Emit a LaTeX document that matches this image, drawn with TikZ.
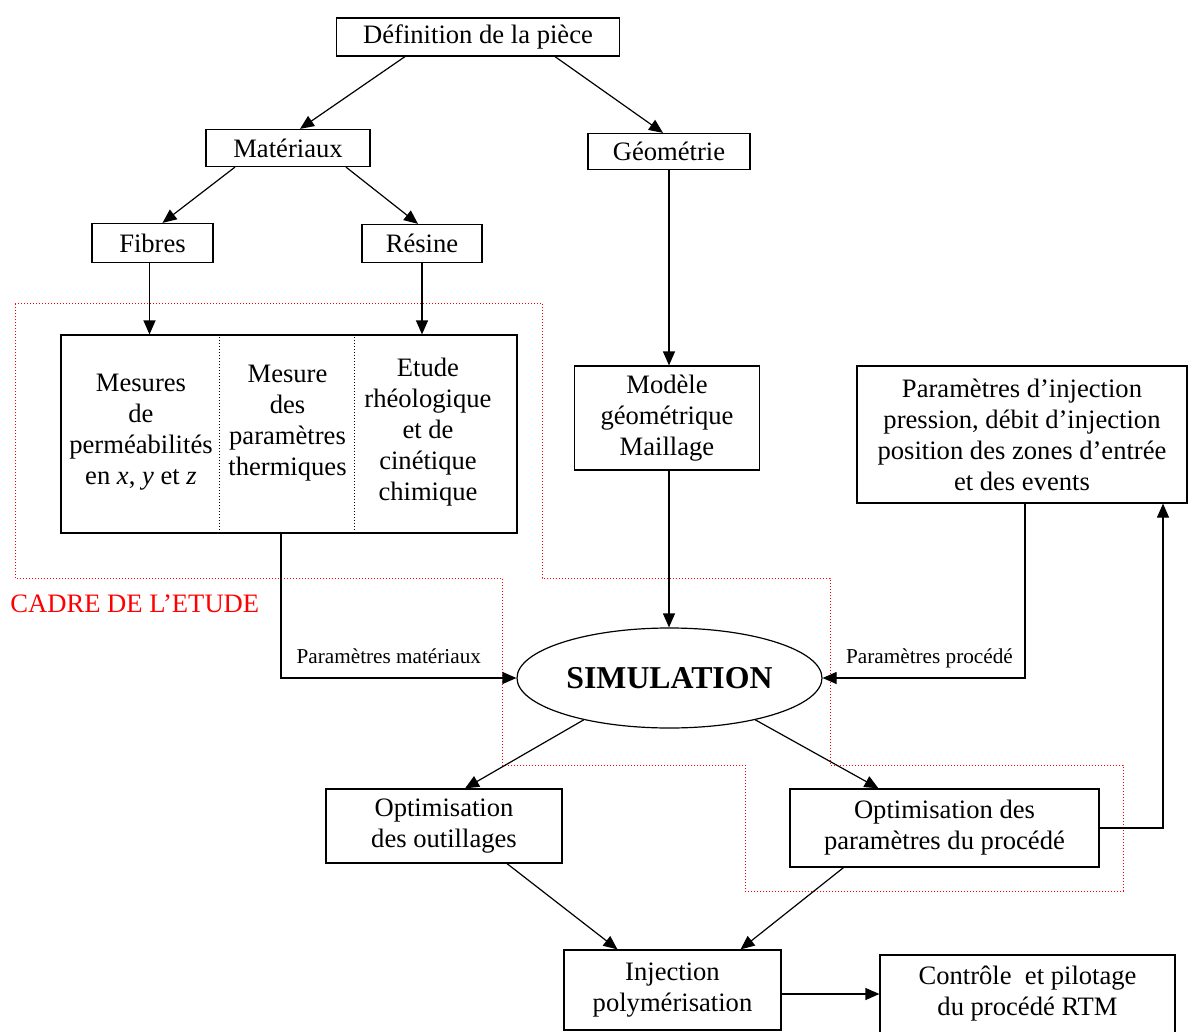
\documentclass[tikz,border=0pt]{standalone}
\usepackage{fontspec}
\setmainfont{Liberation Serif}
\usetikzlibrary{arrows.meta, calc, shapes.geometric, positioning}

\begin{document}
\begin{tikzpicture}[x=0.5pt, y=-0.5pt,
    boite/.style={draw, rectangle, inner sep=0pt, align=center, line width=0.6pt,
        font=\fontsize{13.3}{15.5}\selectfont},
    texte/.style={inner sep=0pt, align=center, font=\fontsize{13.3}{15.5}\selectfont},
    petit/.style={font=\fontsize{10.6}{12}\selectfont, text depth=0.25em},
    fleche/.style={-{Triangle[length=7pt,width=6pt]}, line width=0.6pt},
    cadre/.style={red, densely dotted, line width=0.5pt}]
    \useasboundingbox (0,0) rectangle (1188,1032);

    % cadre de l'etude
    \draw[cadre] (15,303) -- (542,303) -- (542,578) -- (830,578) -- (830,765)
        -- (1123,765) -- (1123,891) -- (745,891) -- (745,765) -- (502,765)
        -- (502,578) -- (15,578) -- cycle;
    \node[texte, red, anchor=west] (titre) at (10,604) {CADRE DE L’ETUDE};

    % boites
    \node[boite, minimum width=141.5pt, minimum height=19pt] (def) at (478,37) {Définition de la pièce};
    \node[boite, minimum width=82pt, minimum height=18.5pt] (mat) at (288,148) {Matériaux};
    \node[boite, minimum width=81pt, minimum height=18pt] (geo) at (669,151.5) {Géométrie};
    \node[boite, minimum width=60.5pt, minimum height=19.5pt] (fibres) at (152.5,243) {Fibres};
    \node[boite, minimum width=60pt, minimum height=19pt] (resine) at (422,243.5) {Résine};
    \node[boite, minimum width=228pt, minimum height=99pt] (etude) at (289,434) {};
    \node[texte] (perm) at (141,432) {Mesures\\de\\perméabilités\\en \textit{x}, \textit{y} et \textit{z}};
    \node[texte] (therm) at (287.5,423) {Mesure\\des\\paramètres\\thermiques};
    \node[texte] (rheo) at (428,432) {Etude\\rhéologique\\et de\\cinétique\\chimique};
    \draw[densely dotted, line width=0.5pt] ($(etude.north west)+(159,0)$) -- ($(etude.south west)+(159,0)$);
    \draw[densely dotted, line width=0.5pt] ($(etude.north west)+(294,0)$) -- ($(etude.south west)+(294,0)$);
    \node[boite, minimum width=92.5pt, minimum height=52pt] (modele) at (667,418) {Modèle\\géométrique\\Maillage};
    \node[boite, minimum width=165pt, minimum height=68.5pt] (injparam) at (1022,434.5)
        {Paramètres d’injection\\pression, débit d’injection\\position des zones d’entrée\\et des events};
    \node[ellipse, draw, line width=0.6pt, inner sep=0pt, minimum width=152.5pt, minimum height=50pt,
        font=\bfseries\fontsize{15.9}{18}\selectfont] (sim) at (669.5,678) {\raisebox{-1.5pt}{SIMULATION}};
    \node[boite, minimum width=118pt, minimum height=37pt] (optout) at (444,826) {Optimisation\\des outillages};
    \node[boite, minimum width=154.5pt, minimum height=39pt] (optparam) at (944.5,828) {Optimisation des\\paramètres du procédé};
    \node[boite, minimum width=108.5pt, minimum height=40pt] (injection) at (672.5,990) {Injection\\polymérisation};
    \node[boite, minimum width=147.5pt, minimum height=39pt] (controle) at (1027.5,994) {Contrôle~ et pilotage\\du procédé RTM};

    % liens
    \draw[fleche] ($(def.south)+(-73,0)$) -- ($(mat.north)+(12,0)$);
    \draw[fleche] ($(def.south)+(77,0)$) -- ($(geo.north)+(-6,0)$);
    \draw[fleche] ($(mat.south)+(-53,0)$) -- ($(fibres.north)+(10,0)$);
    \draw[fleche] ($(mat.south)+(58,0)$) -- ($(resine.north)+(-4,0)$);
    \draw[fleche] ($(fibres.south)+(-3,0)$) -- ($(fibres.south |- etude.north)+(-3,0)$);
    \draw[fleche] (resine.south) -- (resine.south |- etude.north);
    \draw[fleche] (geo.south) -- (geo.south |- modele.north);
    \draw[fleche] (geo.south |- modele.south) -- (geo.south |- sim.north);
    \draw[fleche] ($(etude.south)+(-8,0)$) |- (sim.west)
        node[petit, pos=0.729, above=1pt] {Paramètres matériaux};
    \draw[fleche] ($(injparam.south)+(3,0)$) |- (sim.east)
        node[petit, pos=0.736, above=1pt] {Paramètres procédé};
    \draw[fleche] (sim.206) -- ($(optout.north)+(21,0)$);
    \draw[fleche] (sim.334) -- ($(optparam.north)+(-66,0)$);
    \draw[fleche] (optparam.east) -| ($(injparam.south)+(141,0)$);
    \draw[fleche] ($(optout.south)+(63,0)$) -- ($(injection.north)+(-55,0)$);
    \draw[fleche] ($(optparam.south)+(-101,0)$) -- ($(injection.north)+(68,0)$);
    \draw[fleche] (controle.west -| injection.east) -- (controle.west);
\end{tikzpicture}
\end{document}
